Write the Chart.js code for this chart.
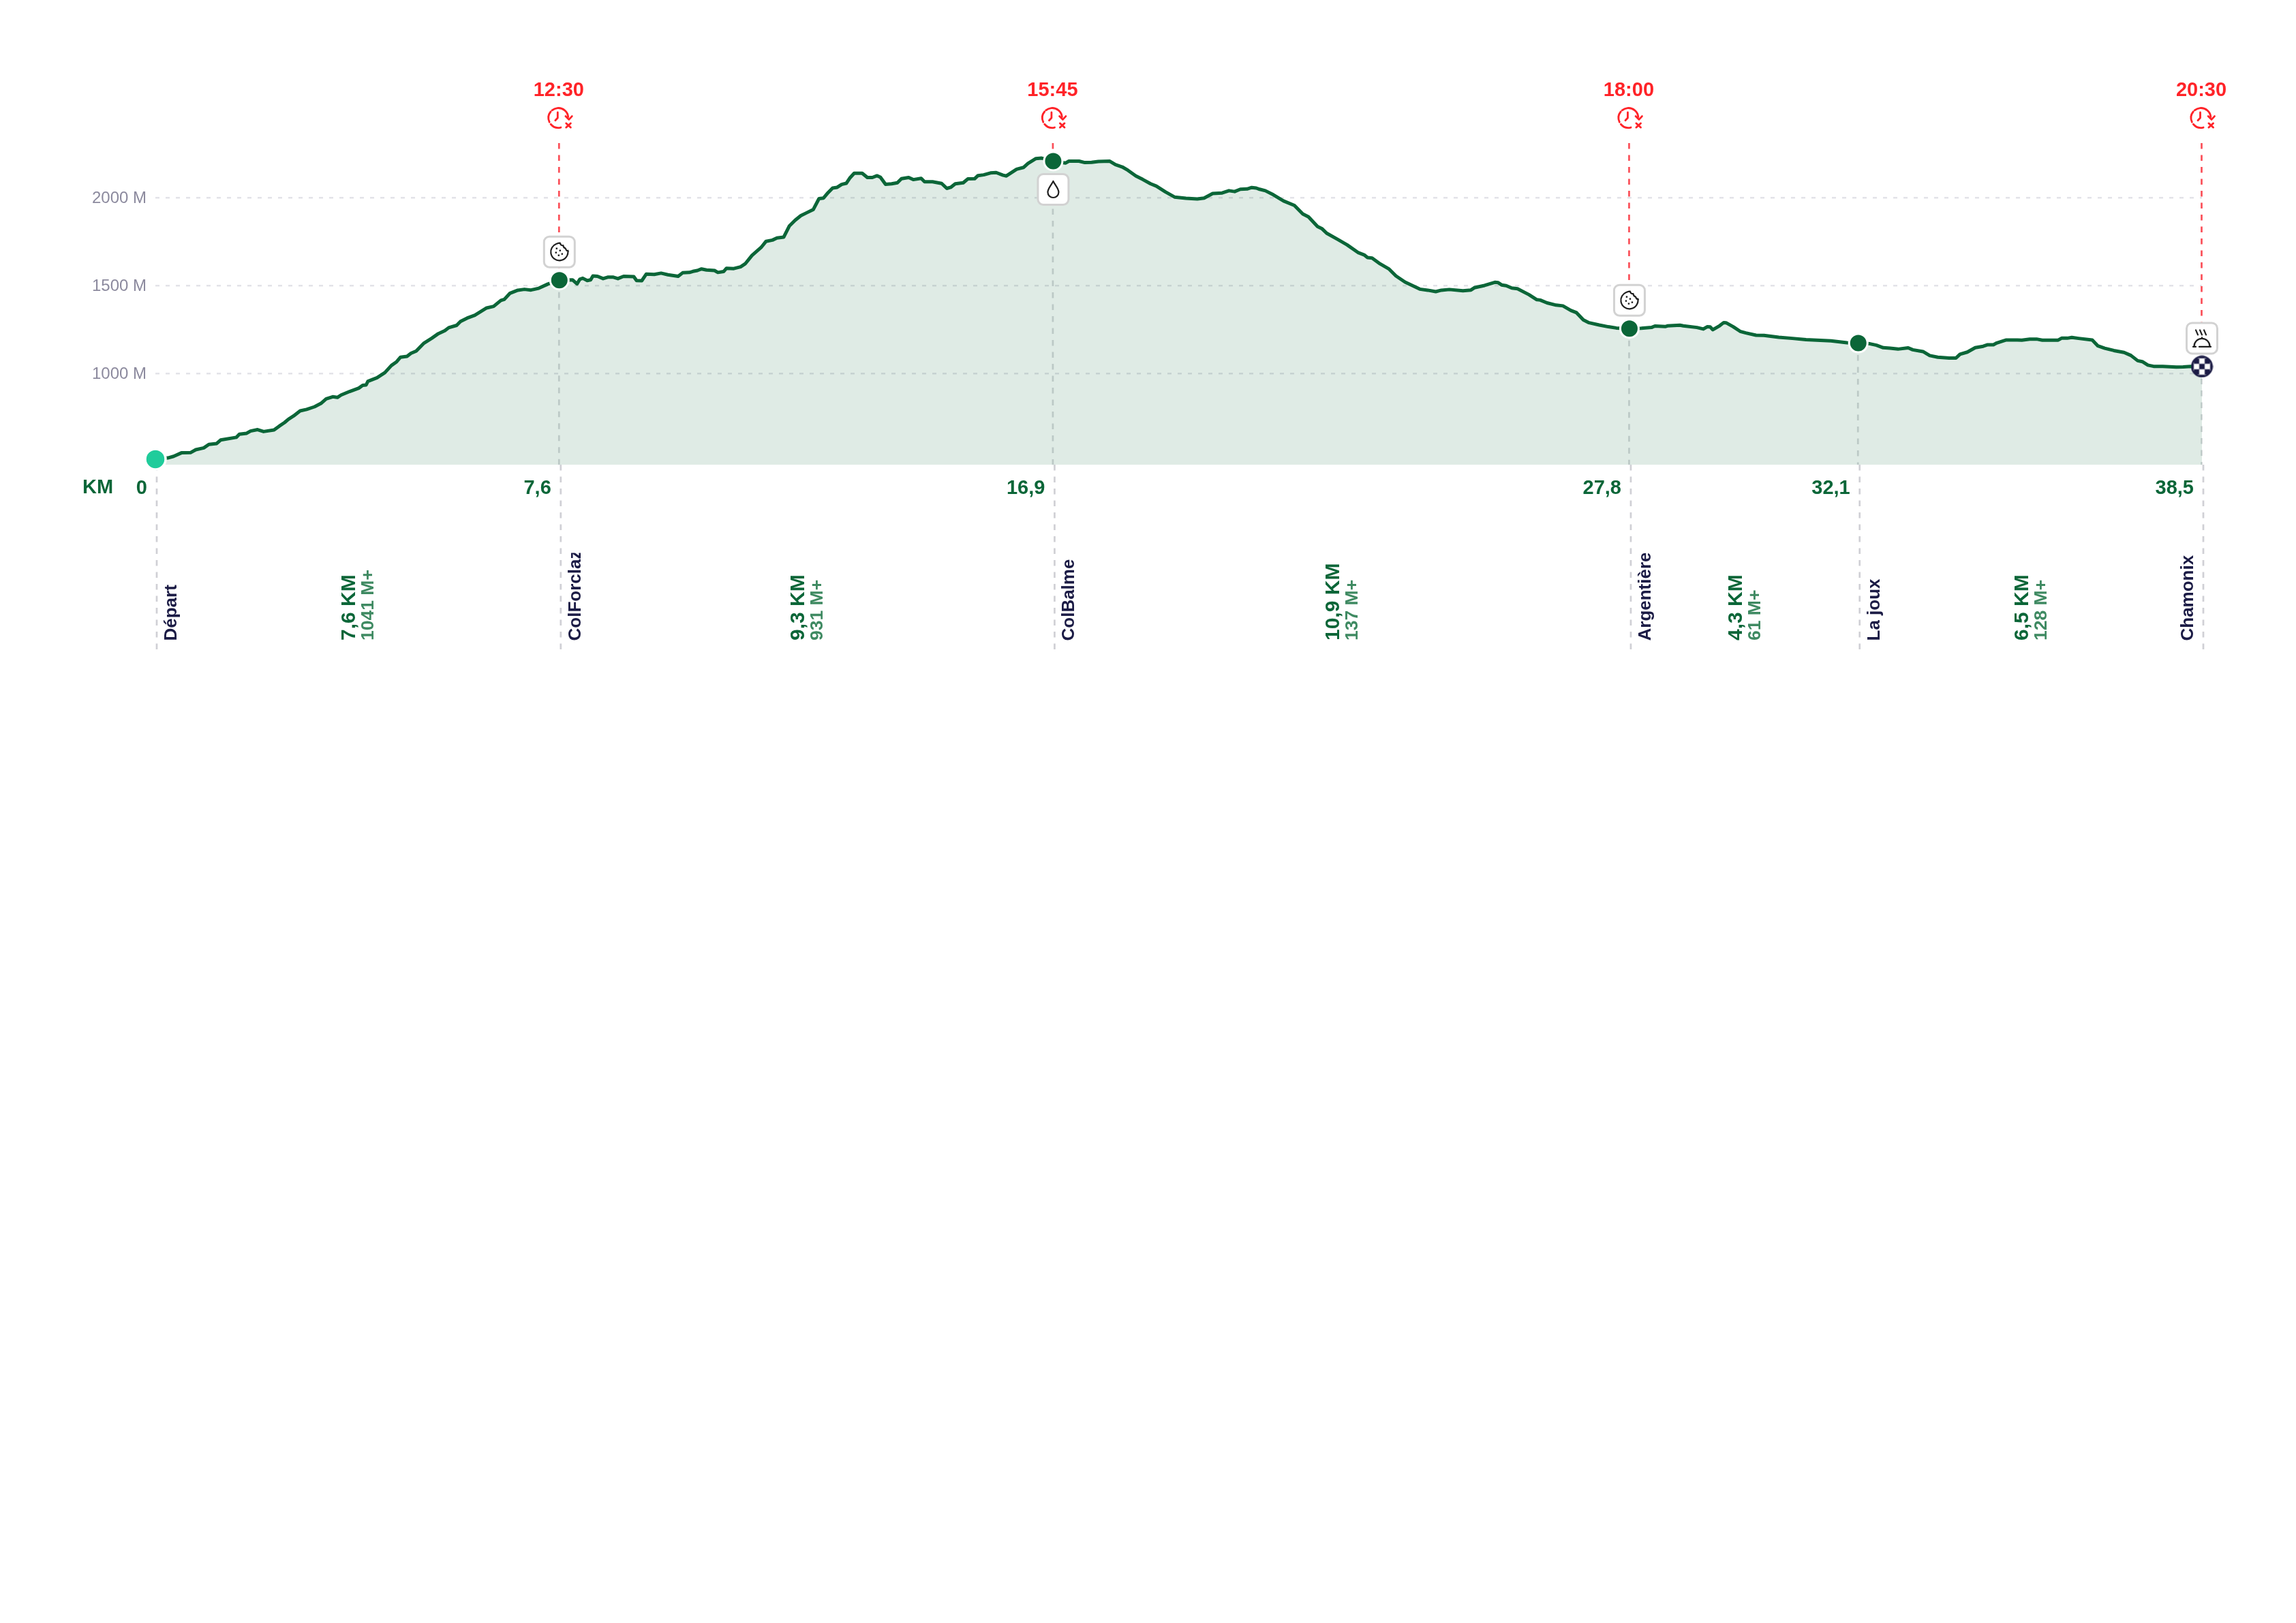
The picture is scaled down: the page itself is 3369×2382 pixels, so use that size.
<!DOCTYPE html>
<html>
<head>
<meta charset="utf-8">
<title>Profil</title>
<script src="https://cdn.jsdelivr.net/npm/chart.js@4/dist/chart.umd.min.js"></script>
<style>
  html, body { margin: 0; padding: 0; background: #fff; }
  canvas { display: block; }
</style>
</head>
<body>
<canvas id="profile" width="3369" height="2382" style="width:3369px;height:2382px"></canvas>
<script>
// elevation profile (km, metres)
var profileKm = [0,.235,.343,.49,.66,.76,.91,1.006,1.153,1.227,1.521,1.58,1.717,1.79,1.923,2.036,2.232,2.33,2.428,2.502,2.6,2.723,2.845,2.993,3.115,3.213,3.336,3.424,3.493,3.655,3.827,3.9,3.964,3.998,4.17,4.317,4.44,4.538,4.612,4.734,4.808,4.906,5.053,5.2,5.323,5.446,5.519,5.667,5.74,5.863,6.01,6.231,6.363,6.5,6.564,6.672,6.819,6.942,7.065,7.212,7.384,7.6,
  7.846,7.932,7.983,8.04,8.124,8.188,8.231,8.317,8.423,8.509,8.616,8.701,8.808,9,9.052,9.15,9.235,9.385,9.513,9.642,9.834,9.919,10.047,10.112,10.197,10.274,10.368,10.518,10.582,10.689,10.744,10.881,11.009,11.095,11.223,11.394,11.488,11.608,11.693,11.821,11.928,12.035,12.142,12.249,12.377,12.484,12.569,12.655,12.74,12.826,12.911,12.997,13.061,13.146,13.296,13.394,13.488,13.574,13.638,13.736,
  13.851,13.958,14.035,14.171,14.257,14.406,14.47,14.62,14.791,14.889,14.962,15.047,15.197,15.283,15.411,15.475,15.582,15.71,15.817,15.945,16.009,16.201,16.33,16.415,16.565,16.672,16.89,17.12,17.185,17.377,17.484,17.612,17.74,17.954,18.061,18.189,18.296,18.445,18.574,18.723,18.83,19.001,19.172,19.386,19.6,19.728,19.89,
  20.068,20.196,20.303,20.41,20.538,20.624,20.709,20.773,20.88,21.03,21.222,21.427,21.585,21.692,21.863,21.949,22.034,22.248,22.419,22.632,22.739,22.803,22.889,23.038,23.209,23.338,23.509,23.658,23.786,23.936,24.086,24.192,24.342,24.598,24.748,24.812,25.004,25.197,25.261,25.325,25.411,25.517,25.624,25.838,25.987,26.051,
  26.179,26.35,26.478,26.628,26.735,26.863,26.97,27.162,27.333,27.483,27.73,27.953,28.145,28.209,28.402,28.444,28.68,28.744,29,29.12,29.192,29.248,29.299,29.427,29.504,29.547,29.684,29.812,29.919,30.111,30.261,30.539,30.795,31.052,31.522,31.821,32.035,
  32.256,32.376,32.504,32.632,32.782,32.974,33.06,33.252,33.38,33.53,33.744,33.872,33.949,34.086,34.235,34.385,34.47,34.577,34.641,34.769,34.821,35.026,35.111,35.261,35.389,35.496,35.795,35.859,35.966,36.052,36.18,36.436,36.543,36.671,36.842,37.034,37.163,37.291,37.377,37.483,37.59,37.761,38.018,38.146,38.295,38.5];
var profileEle = [512,519,528,548,549,566,576,596,601,621,636,654,659,672,680,669,678,700,720,739,758,787,795,810,829,855,867,863,877,897,916,932,934,955,975,1004,1045,1066,1092,1097,1114,1127,1172,1200,1226,1243,1260,1273,1295,1314,1331,1372,1381,1415,1421,1456,1473,1478,1474,1484,1508,1530,
  1532,1509,1535,1541,1528,1532,1554,1552,1539,1547,1547,1539,1552,1550,1528,1527,1565,1563,1570,1561,1552,1572,1574,1580,1585,1594,1588,1585,1574,1579,1598,1596,1606,1623,1671,1716,1751,1758,1770,1775,1839,1871,1897,1913,1932,1994,1997,2028,2054,2058,2075,2081,2110,2138,2138,2114,2114,2124,2116,2075,
  2078,2084,2107,2114,2102,2109,2090,2090,2080,2052,2058,2078,2084,2106,2107,2125,2129,2140,2142,2127,2123,2161,2171,2194,2222,2224,2207,2196,2207,2207,2199,2200,2205,2207,2187,2174,2155,2123,2103,2078,2065,2032,2003,1996,1992,1997,2023,
  2026,2039,2034,2047,2049,2057,2054,2047,2039,2016,1981,1955,1907,1890,1835,1822,1797,1761,1731,1686,1674,1659,1656,1623,1593,1554,1519,1498,1479,1473,1465,1473,1477,1470,1474,1487,1500,1518,1516,1503,1499,1485,1481,1448,1419,1417,
  1401,1388,1384,1358,1345,1304,1288,1275,1265,1258,1255,1257,1261,1269,1266,1270,1274,1270,1261,1252,1265,1264,1248,1271,1289,1288,1265,1239,1230,1217,1216,1205,1199,1192,1185,1174,1172,
  1168,1160,1146,1143,1138,1145,1134,1124,1101,1092,1087,1087,1109,1121,1146,1154,1163,1163,1173,1185,1190,1190,1189,1195,1195,1189,1189,1200,1200,1204,1199,1190,1156,1143,1130,1119,1102,1072,1067,1047,1040,1040,1036,1037,1040,1039];

// waypoints
var stopKm = [0, 7.6, 16.89, 27.73, 32.035, 38.5];
var stopEle = [512, 1530, 2207, 1255, 1172, 1039];
var stopNames = ["Départ", "ColForclaz", "ColBalme", "Argentière", "La joux", "Chamonix"];
var kmLabels = ["0", "7,6", "16,9", "27,8", "32,1", "38,5"];
var elevationTicks = [1000, 1500, 2000];

// cut-off times and aid stations, by waypoint index
var cutoffStops = [1, 2, 3, 5];
var cutoffTimes = ["12:30", "15:45", "18:00", "20:30"];
var aidStops = [1, 2, 3, 5];
var aidIcons = ["cookie", "drop", "cookie", "meal"];

// legs between waypoints
var legDistance = ["7,6 KM", "9,3 KM", "10,9 KM", "4,3 KM", "6,5 KM"];
var legClimb = ["1041 M+", "931 M+", "137 M+", "61 M+", "128 M+"];

var GREEN = "#0b6638", RED = "#ff2328", NAVY = "#1b1b45", INK = "#1f1f1f";
var FONT = '"Liberation Sans", Arial, sans-serif';

function makeFlag() {
    var c = document.createElement("canvas");
    c.width = 33; c.height = 33;
    var g = c.getContext("2d");
    g.beginPath(); g.arc(16.5, 16.5, 16, 0, Math.PI * 2); g.fillStyle = NAVY; g.fill();
    g.save();
    g.beginPath(); g.arc(16.5, 16.5, 13.5, 0, Math.PI * 2); g.clip();
    g.fillStyle = "#fff";
    for (var i = -2; i <= 2; i++) {
        for (var j = -2; j <= 2; j++) {
            if ((i + j + 4) % 2 == 1) g.fillRect(12.5 + i * 8, 12.5 + j * 8, 8, 8);
        }
    }
    g.restore();
    return c;
}

function upText(ctx, text, x, y, font, color) {
    ctx.save();
    ctx.translate(x, y);
    ctx.rotate(-Math.PI / 2);
    ctx.font = font;
    ctx.fillStyle = color;
    ctx.textAlign = "left";
    ctx.textBaseline = "alphabetic";
    ctx.fillText(text, 0, 0);
    ctx.restore();
}

function dashed(ctx, x, y1, y2, color, width) {
    ctx.save();
    ctx.setLineDash([8.5, 9]);
    ctx.strokeStyle = color;
    ctx.lineWidth = width;
    ctx.beginPath();
    ctx.moveTo(x, y1);
    ctx.lineTo(x, y2);
    ctx.stroke();
    ctx.restore();
}

function drawClock(ctx, x, y) {
    ctx.save();
    ctx.translate(x, y);
    ctx.strokeStyle = RED;
    ctx.lineWidth = 2.8;
    ctx.lineCap = "round";
    ctx.lineJoin = "round";
    ctx.beginPath(); ctx.arc(0, 0, 14.5, -Math.PI * 0.03, -Math.PI * 0.72, true); ctx.stroke();
    ctx.beginPath(); ctx.arc(0, 0, 14.5, -Math.PI * 0.78, Math.PI * 0.86, true); ctx.stroke();
    ctx.beginPath(); ctx.arc(0, 0, 14.5, Math.PI * 0.78, Math.PI * 0.42, true); ctx.stroke();
    ctx.beginPath(); ctx.moveTo(-1, -8); ctx.lineTo(-1, 0); ctx.lineTo(-4.5, 3.8); ctx.stroke();
    ctx.beginPath(); ctx.moveTo(10.6, -2.4); ctx.lineTo(15.6, 2.4); ctx.lineTo(20, -2.4); ctx.stroke();
    ctx.lineWidth = 3;
    ctx.beginPath();
    ctx.moveTo(11.5, 8); ctx.lineTo(18, 14);
    ctx.moveTo(18, 8); ctx.lineTo(11.5, 14);
    ctx.stroke();
    ctx.restore();
}

function drawIcon(ctx, name, x, y) {
    ctx.save();
    ctx.translate(x, y);
    ctx.strokeStyle = INK;
    ctx.fillStyle = INK;
    ctx.lineWidth = 2.2;
    ctx.lineCap = "round";
    ctx.lineJoin = "round";
    ctx.beginPath();
    if (name == "cookie") {
        ctx.arc(0, 0, 12.6, -0.05 * Math.PI, -0.62 * Math.PI, false);
        ctx.quadraticCurveTo(-1, -13, 1, -13);
        ctx.quadraticCurveTo(2, -9, 5.5, -9.5);
        ctx.quadraticCurveTo(6, -5.5, 9, -5);
        ctx.quadraticCurveTo(10, -1.5, 13, -1);
        ctx.stroke();
        [[-4, -5], [1, -2], [-5, 1], [4, 3], [-1, 5]].forEach(function (d) {
            ctx.fillRect(d[0] - 1.2, d[1] - 1.2, 2.4, 2.4);
        });
    } else if (name == "drop") {
        ctx.moveTo(0, -12);
        ctx.bezierCurveTo(3, -6, 8, -1, 8, 4);
        ctx.bezierCurveTo(8, 9, 4, 12, 0, 12);
        ctx.bezierCurveTo(-4, 12, -8, 9, -8, 4);
        ctx.bezierCurveTo(-8, -1, -3, -6, 0, -12);
        ctx.stroke();
    } else {
        ctx.moveTo(-9, -12); ctx.lineTo(-6, -5);
        ctx.moveTo(-3, -12); ctx.lineTo(0, -5);
        ctx.moveTo(3, -12); ctx.lineTo(6, -5);
        ctx.stroke();
        ctx.beginPath();
        ctx.arc(0, 12, 11.5, Math.PI, 0, false);
        ctx.stroke();
        ctx.beginPath();
        ctx.moveTo(-13, 12.5); ctx.lineTo(-9, 12.5);
        ctx.moveTo(-4, 12.5); ctx.lineTo(13, 12.5);
        ctx.moveTo(0, -1); ctx.lineTo(0, -0.5);
        ctx.stroke();
    }
    ctx.restore();
}

// guides go under the curve markers
var guides = {
    id: "guides",
    beforeDatasetsDraw: function (chart) {
        var ctx = chart.ctx, xs = chart.scales.x, ys = chart.scales.y;
        var bottom = chart.chartArea.bottom;
        stopKm.forEach(function (km, i) {
            var x = xs.getPixelForValue(km);
            dashed(ctx, x - 0.5, ys.getPixelForValue(stopEle[i]), bottom, "rgba(90,100,110,0.25)", 2.7);
            dashed(ctx, x + 2, bottom, 954, "#d0d0d5", 2.7);
        });
        cutoffStops.forEach(function (s) {
            var x = xs.getPixelForValue(stopKm[s]);
            dashed(ctx, x - 0.5, 210, ys.getPixelForValue(stopEle[s]), "#fb4f58", 2.7);
        });
    }
};

// texts and icons on top of everything
var overlay = {
    id: "overlay",
    afterDraw: function (chart) {
        var ctx = chart.ctx, xs = chart.scales.x, ys = chart.scales.y;
        ctx.save();

        ctx.font = "bold 29px " + FONT;
        ctx.fillStyle = GREEN;
        ctx.textAlign = "left";
        ctx.textBaseline = "middle";
        ctx.fillText("KM", 121, 715.5);

        cutoffStops.forEach(function (s, i) {
            var x = xs.getPixelForValue(stopKm[s]) - 1;
            ctx.font = "bold 29px " + FONT;
            ctx.fillStyle = RED;
            ctx.textAlign = "center";
            ctx.textBaseline = "middle";
            ctx.fillText(cutoffTimes[i], x, 132.5);
            drawClock(ctx, x - 0.5, 173);
        });

        aidStops.forEach(function (s, i) {
            var x = xs.getPixelForValue(stopKm[s]);
            var my = ys.getPixelForValue(stopEle[s]);
            var cy = aidIcons[i] == "drop" ? my + 41.5 : my - 41.5;
            ctx.beginPath();
            ctx.roundRect(x - 22.5, cy - 22.5, 45, 45, 8);
            ctx.fillStyle = "#fff";
            ctx.fill();
            ctx.strokeStyle = "#d2d2d2";
            ctx.lineWidth = 3;
            ctx.stroke();
            drawIcon(ctx, aidIcons[i], x, cy);
        });

        stopNames.forEach(function (name, i) {
            // the last name sits left of its line
            var x = xs.getPixelForValue(stopKm[i]) + (i == stopNames.length - 1 ? -13 : 31);
            ctx.save();
            ctx.beginPath();
            ctx.rect(x - 30, 811.5, 60, 140);
            ctx.clip();
            upText(ctx, name, x, 940.5, "bold 26px " + FONT, NAVY);
            ctx.restore();
        });

        legDistance.forEach(function (label, i) {
            var x = xs.getPixelForValue((stopKm[i] + stopKm[i + 1]) / 2);
            upText(ctx, label, x - 3, 940, "bold 30px " + FONT, GREEN);
            upText(ctx, legClimb[i], x + 24, 940, "bold 26.5px " + FONT, "#3f8a62");
        });

        ctx.restore();
    }
};

var flag = makeFlag();
var ctx = document.getElementById("profile").getContext("2d");

var chart = new Chart(ctx, {
    type: "line",
    data: {
        datasets: [{
            // waypoints on top of the curve
            order: 0,
            data: stopKm.map(function (km, i) { return { x: km, y: stopEle[i] }; }),
            showLine: false,
            clip: false,
            pointStyle: ["circle", "circle", "circle", "circle", "circle", flag],
            pointRadius: [15, 13.5, 13.5, 13.5, 13.5, 16],
            pointBorderWidth: [3.5, 3, 3, 3, 3, 0],
            pointBorderColor: "#fff",
            pointBackgroundColor: ["#20cc9b", GREEN, GREEN, GREEN, GREEN, NAVY]
        }, {
            order: 1,
            data: profileKm.map(function (km, i) { return { x: km, y: profileEle[i] }; }),
            borderColor: GREEN,
            borderWidth: 5,
            borderJoinStyle: "round",
            backgroundColor: "rgba(11,102,56,0.13)",
            fill: "start",
            tension: 0,
            pointRadius: 0
        }]
    },
    options: {
        responsive: false,
        animation: false,
        events: [],
        layout: { padding: { left: 0, right: 138, top: 60, bottom: 0 } },
        plugins: { legend: { display: false }, tooltip: { enabled: false } },
        scales: {
            x: {
                type: "linear",
                min: 0,
                max: 38.5,
                // room for the rotated labels under the plot
                afterFit: function (s) { s.height = 1700; },
                afterBuildTicks: function (s) {
                    s.ticks = stopKm.map(function (km) { return { value: km }; });
                },
                grid: { display: false, drawTicks: false },
                border: { display: false },
                ticks: {
                    autoSkip: false,
                    maxRotation: 0,
                    align: "end",
                    labelOffset: -12,
                    padding: 18,
                    color: GREEN,
                    font: { family: FONT, size: 29, weight: "bold" },
                    callback: function (v, i) { return kmLabels[i]; }
                }
            },
            y: {
                min: 480.6,
                max: 2891,
                afterFit: function (s) { s.width = 228; },
                afterBuildTicks: function (s) {
                    s.ticks = elevationTicks.map(function (v) { return { value: v }; });
                },
                grid: { color: "#e3e3e8", lineWidth: 2.5, drawTicks: false },
                border: { display: false, dash: [6, 9] },
                ticks: {
                    padding: 13,
                    labelOffset: 1.5,
                    color: "#8c8a9e",
                    font: { family: FONT, size: 24 },
                    callback: function (v) { return v + " M"; }
                }
            }
        }
    },
    plugins: [guides, overlay]
});
</script>
</body>
</html>
